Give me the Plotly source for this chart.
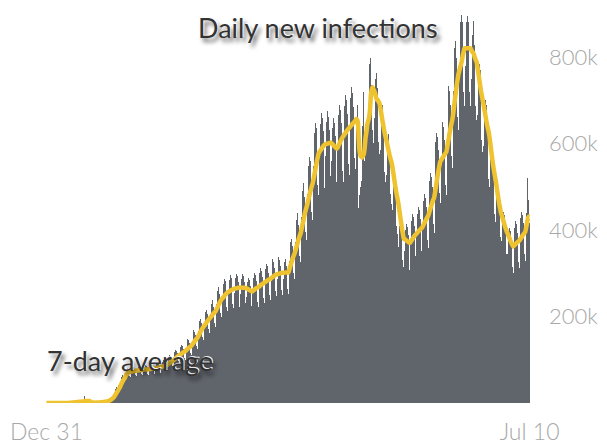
import pandas as pd
import plotly.graph_objects as go

# Daily new infections (thousands), one row per week (Tue..Mon), from Dec 31 2019 to Jul 10 2021
daily_cases_k = [
    0.03, 0, 0, 0, 0, 0, 0,
    0, 0, 0, 0, 0, 0, 0,
    0, 0, 0, 0.02, 0.1, 0.15, 0.08,
    0.1, 0.2, 0.1, 0.3, 0.5, 0.7, 0.8,
    2.6, 0.6, 2.1, 1.7, 2.0, 2.1, 2.6,
    2.8, 3.2, 3.9, 3.7, 3.2, 3.0, 2.6,
    2.0, 2.0, 15.1, 6.5, 2.1, 2.1, 2.0,
    1.9, 0.5, 0.6, 1.0, 0.9, 1.0, 0.6,
    0.9, 1.1, 1.0, 1.4, 1.8, 1.8, 2.4,
    2.0, 2.8, 2.5, 3.8, 4.0, 4.0, 4.5,
    4.6, 7.0, 7.4, 10.6, 11.2, 13.6, 15.9,
    16.4, 23.7, 30.0, 32.0, 37.0, 34.0, 41.0,
    41, 49, 64, 61, 65, 59, 58,
    68, 78, 81, 79, 76, 63, 60,
    71, 81, 84, 83, 79, 65, 62,
    73, 83, 86, 85, 81, 67, 64,
    74, 84, 87, 86, 82, 68, 65,
    76, 86, 90, 88, 84, 70, 66,
    79, 90, 93, 91, 87, 72, 69,
    84, 95, 99, 97, 92, 77, 73,
    93, 106, 110, 108, 103, 85, 81,
    105, 119, 123, 121, 116, 96, 91,
    114, 130, 134, 132, 126, 104, 100,
    125, 143, 148, 145, 139, 115, 110,
    143, 162, 168, 165, 158, 131, 125,
    167, 190, 197, 194, 185, 153, 146,
    185, 211, 218, 215, 205, 170, 162,
    201, 229, 237, 233, 223, 184, 176,
    228, 259, 269, 264, 252, 209, 199,
    243, 276, 287, 282, 269, 223, 212,
    251, 285, 296, 290, 277, 230, 219,
    254, 288, 299, 294, 280, 232, 222,
    253, 287, 298, 293, 279, 231, 221,
    245, 279, 289, 284, 271, 224, 214,
    255, 289, 300, 295, 281, 233, 222,
    264, 300, 311, 306, 292, 242, 231,
    273, 310, 321, 316, 301, 250, 238,
    282, 321, 333, 327, 312, 258, 247,
    286, 325, 337, 331, 316, 262, 250,
    287, 326, 338, 332, 317, 263, 251,
    328, 373, 386, 380, 362, 300, 286,
    372, 423, 439, 431, 412, 341, 325,
    431, 490, 508, 499, 477, 395, 377,
    483, 549, 569, 559, 533, 442, 422,
    549, 624, 647, 636, 607, 503, 480,
    568, 646, 670, 658, 628, 520, 496,
    572, 650, 674, 662, 632, 524, 500,
    559, 635, 659, 647, 617, 512, 488,
    585, 665, 690, 678, 647, 536, 511,
    604, 687, 712, 700, 668, 553, 528,
    619, 704, 730, 717, 685, 567, 541,
    650, 700, 690, 450, 480, 500, 513,
    640, 730, 720, 560, 640, 590, 635,
    689, 783, 840, 798, 735, 631, 600,
    658, 748, 776, 762, 728, 603, 575,
    584, 664, 689, 677, 646, 535, 510,
    527, 599, 622, 611, 583, 483, 461,
    447, 508, 526, 517, 494, 409, 390,
    361, 410, 426, 418, 399, 331, 315,
    352, 400, 414, 407, 389, 322, 307,
    371, 421, 437, 429, 410, 339, 324,
    385, 437, 454, 446, 425, 352, 336,
    410, 467, 484, 475, 454, 376, 359,
    451, 513, 532, 523, 499, 413, 394,
    530, 603, 625, 614, 586, 485, 463,
    551, 626, 650, 638, 609, 505, 481,
    622, 707, 734, 721, 688, 570, 544,
    722, 821, 851, 836, 798, 661, 631,
    779, 880, 895, 900, 880, 720, 686,
    779, 880, 895, 900, 880, 720, 686,
    749, 851, 883, 867, 827, 686, 654,
    665, 756, 784, 770, 735, 609, 581,
    594, 675, 700, 688, 656, 544, 519,
    499, 567, 588, 578, 551, 457, 436,
    418, 475, 493, 484, 462, 383, 365,
    375, 427, 442, 435, 415, 344, 328,
    344, 391, 405, 398, 380, 315, 300,
    356, 405, 420, 413, 394, 326, 311,
    375, 427, 442, 435, 415, 344, 328,
    440, 500, 520, 470, 415,
]

start_date = "2019-12-31"
end_date = "2021-07-10"
x_tick_vals = ["2019-12-31", "2021-07-10"]
x_tick_text = ["Dec 31", "Jul 10"]
y_tick_vals = [200, 400, 600, 800]
y_tick_text = ["200k", "400k", "600k", "800k"]

dates = pd.date_range(start_date, end_date, freq="D")
s = pd.Series(daily_cases_k, index=dates)
avg7 = s.rolling(7, min_periods=1).mean()

fig = go.Figure()
fig.add_trace(go.Bar(x=dates, y=s.values, marker=dict(color="#60646b", line=dict(width=0)),
                     hoverinfo="skip", showlegend=False))
fig.add_trace(go.Scatter(x=dates, y=avg7.values, mode="lines",
                         line=dict(color="#efc22f", width=4.5, shape="spline", smoothing=0.6),
                         hoverinfo="skip", showlegend=False))

PLOT_H = 388
shadow = "1px -1px 0px rgba(255,255,255,0.9), 3px 4px 4px rgba(0,0,0,0.6)"
fig.add_annotation(xref="paper", yref="paper", x=(318 - 46) / 484, y=(403 - 28) / PLOT_H,
                   text="Daily new infections", showarrow=False,
                   font=dict(family="Lato", size=27, color="#333333", shadow=shadow),
                   xanchor="center", yanchor="middle")
fig.add_annotation(xref="paper", yref="paper", x=(130 - 46) / 484, y=(403 - 360) / PLOT_H,
                   text="7-day average", showarrow=False,
                   font=dict(family="Lato", size=27, color="#333333", shadow=shadow),
                   xanchor="center", yanchor="middle")

fig.update_layout(
    width=607, height=446,
    margin=dict(l=46, r=77, t=15, b=43, autoexpand=False),
    paper_bgcolor="white", plot_bgcolor="white",
    bargap=0,
    xaxis=dict(range=[pd.Timestamp(start_date) - pd.Timedelta(hours=12),
                      pd.Timestamp(end_date) + pd.Timedelta(hours=12)],
               tickvals=x_tick_vals, ticktext=x_tick_text, tickangle=0,
               showgrid=False, zeroline=False, showline=False, ticks="",
               ticklabelstandoff=13, automargin=False,
               tickfont=dict(family="Lato", size=23, color="#a8a8a8", weight=300)),
    yaxis=dict(range=[0, 897], side="right", tickvals=y_tick_vals, ticktext=y_tick_text,
               showgrid=False, zeroline=False, showline=False, ticks="",
               ticklabelstandoff=18, automargin=False,
               tickfont=dict(family="Lato", size=22, color="#a8a8a8", weight=300)),
)

fig.write_html("out.html", config={"displayModeBar": False, "staticPlot": True},
               post_script="document.body.style.margin='0';document.body.style.overflow='hidden';")
